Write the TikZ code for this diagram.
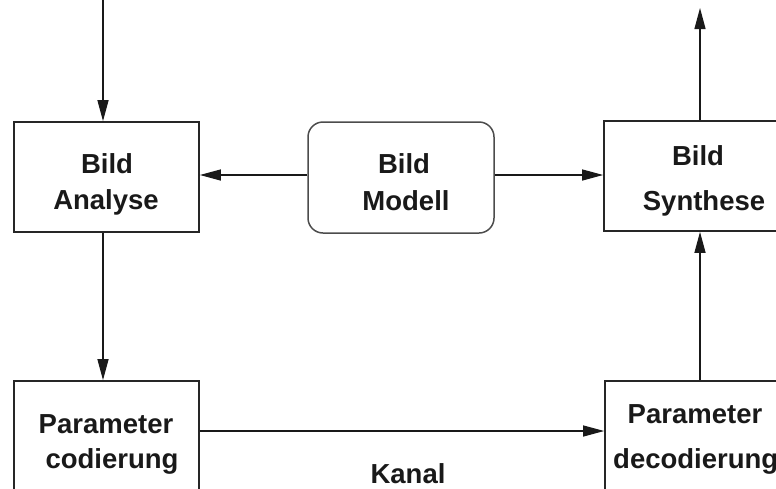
\documentclass[tikz,border=0pt]{standalone}
\usepackage{fontspec}
\setmainfont{Liberation Sans}
\usetikzlibrary{arrows.meta,calc}
\begin{document}
\begin{tikzpicture}[x=1pt,y=-1pt,
  box/.style={draw=black!85,line width=1.7pt,minimum width=#1,minimum height=110pt,inner sep=0pt},
  modbox/.style={draw=black!70,line width=1.5pt,rounded corners=15pt,minimum width=186pt,minimum height=111pt,inner sep=0pt},
  lbl/.style={anchor=base,inner sep=0pt,font=\bfseries\fontsize{27.5}{33}\selectfont,text=black!90},
  arr/.style={line width=1.3pt,draw=black!90,-{Triangle[length=21pt,width=11pt]}},
  ln/.style={line width=1.3pt,draw=black!90}]
\clip (0,0) rectangle (776,488);
% boxes
\node[box=185pt] (ana) at (106.5,177) {};
\node[modbox] (mod) at (401,177.5) {};
\node[box=192pt] (syn) at (700,176) {};
\node[box=185pt] (pc) at (106.5,436) {};
\node[box=192pt] (pd) at (701,436) {};
% texts
\node[lbl] (anaA) at (107,173) {Bild};
\node[lbl] (anaB) at (106,209) {Analyse};
\node[lbl] (modA) at (404,173) {Bild};
\node[lbl] (modB) at (406,210) {Modell};
\node[lbl] (synA) at (698,165) {Bild};
\node[lbl] (synB) at (704,210) {Synthese};
\node[lbl] (pcA) at (106,433) {Parameter};
\node[lbl] (pcB) at (112,468) {codierung};
\node[lbl] (pdA) at (695,423) {Parameter};
\node[lbl,anchor=base west] (pdB) at (613,468) {decodierung};
\node[lbl] (kanal) at (408,483) {Kanal};
% free ends
\coordinate (inTop) at (103,0);
\coordinate (outTop) at (700,8);
% connectors
\draw[arr] (inTop) -- (inTop |- ana.north);
\draw[arr] (ana.south -| inTop) -- (pc.north -| inTop);
\draw[arr] ($(mod.west)+(0,-2.5)$) -- ($(ana.east)+(0,-2)$);
\draw[arr] ($(mod.east)+(0,-2.5)$) -- ($(syn.west)+(0,-1)$);
\draw[arr] (pd.north -| outTop) -- (syn.south -| outTop);
\draw[arr] (syn.north -| outTop) -- (outTop);
\draw[arr] ($(pc.east)+(0,-5)$) -- ($(pd.west)+(0,-5)$);
\end{tikzpicture}
\end{document}
